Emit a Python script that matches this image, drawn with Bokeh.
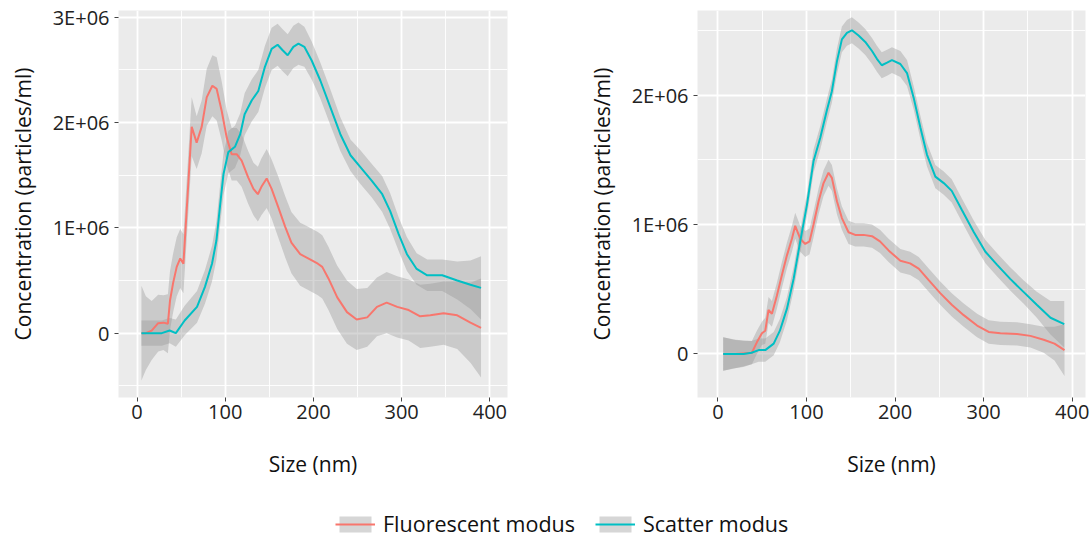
from bokeh.plotting import figure
from bokeh.layouts import column, row
from bokeh.models import FixedTicker, Range1d, Legend, LegendItem, ColumnDataSource
from bokeh.embed import file_html
from bokeh.resources import INLINE

FONT = "Open Sans"
RED = "#F8766D"
TEAL = "#00BFC4"

# ---------------- data (concentration in units of 1E+06 particles/ml) ----------------
# Left panel - fluorescent modus
lf_x = [5, 10, 16.6, 24, 30, 35, 37.4, 41, 45, 49, 52.6, 57.4, 62, 67.6, 73.3, 79, 85.4, 90.3, 96,
        101.6, 107.3, 113, 118.6, 126, 132, 137, 141, 147, 152.6, 160, 168, 175, 185, 194, 205, 210,
        217, 227, 238, 249, 261, 272, 283, 295, 308, 321, 332.5, 347.6, 363, 378, 390]
lf_y = [0, 0.0, 0.025, 0.095, 0.10, 0.09, 0.31, 0.48, 0.63, 0.71, 0.66, 1.32, 1.96, 1.81, 1.96, 2.24,
        2.35, 2.32, 2.11, 1.86, 1.70, 1.70, 1.64, 1.48, 1.37, 1.32, 1.39, 1.47, 1.37, 1.20, 1.01, 0.86,
        0.75, 0.71, 0.66, 0.63, 0.52, 0.34, 0.20, 0.13, 0.15, 0.25, 0.29, 0.25, 0.22, 0.16, 0.17, 0.19,
        0.17, 0.10, 0.05]
lf_se = [0.45, 0.35, 0.28, 0.27, 0.26, 0.28, 0.28, 0.28, 0.28, 0.28, 0.28, 0.28, 0.28, 0.25, 0.25,
         0.27, 0.29, 0.30, 0.28, 0.26, 0.25, 0.25, 0.25, 0.25, 0.25, 0.26, 0.27, 0.28, 0.28, 0.29, 0.29,
         0.29, 0.30, 0.30, 0.30, 0.30, 0.30, 0.30, 0.30, 0.29, 0.28, 0.28, 0.29, 0.29, 0.29, 0.30, 0.30,
         0.30, 0.32, 0.38, 0.47]

# Left panel - scatter modus
ls_x = [5, 15, 28, 37, 44, 54, 68, 77, 85, 90, 94, 98, 103.5, 111, 117, 122, 130, 137.5, 145, 152.6,
        159.4, 164.8, 170.8, 177.2, 183, 189.7, 198, 207.8, 219, 230.5, 242, 253, 266, 278, 287, 296.6,
        306, 317, 329, 346, 363, 378, 390]
ls_y = [0, 0, 0, 0.025, 0, 0.12, 0.25, 0.44, 0.66, 0.88, 1.20, 1.51, 1.72, 1.77, 1.89, 2.08, 2.21,
        2.30, 2.53, 2.70, 2.74, 2.69, 2.64, 2.72, 2.75, 2.72, 2.59, 2.40, 2.15, 1.89, 1.69, 1.58, 1.45,
        1.32, 1.16, 0.94, 0.75, 0.61, 0.55, 0.55, 0.50, 0.46, 0.43]
ls_se = [0.12, 0.12, 0.12, 0.12, 0.13, 0.14, 0.15, 0.16, 0.17, 0.18, 0.19, 0.20, 0.20, 0.20, 0.20,
         0.20, 0.20, 0.20, 0.20, 0.20, 0.20, 0.20, 0.20, 0.20, 0.20, 0.19, 0.18, 0.17, 0.17, 0.16, 0.15,
         0.16, 0.16, 0.17, 0.17, 0.16, 0.16, 0.15, 0.15, 0.15, 0.18, 0.23, 0.30]

# Right panel - fluorescent modus
rf_x = [6, 20, 38.4, 44, 49.7, 53.5, 57.2, 61, 66.6, 72.3, 77.9, 83.6, 87.3, 93, 98.6, 103.5, 108,
        113.7, 119.3, 124.9, 128.7, 134.4, 140, 147.5, 155, 164.5, 174, 183, 192.7, 206, 217, 226.7,
        238, 251, 264, 277.5, 292.6, 305.7, 319, 337.7, 352.8, 367.8, 380, 391.3]
rf_y = [0, 0, 0.01, 0.09, 0.16, 0.18, 0.34, 0.31, 0.45, 0.61, 0.76, 0.89, 0.99, 0.89, 0.85, 0.87,
        1.00, 1.18, 1.32, 1.40, 1.36, 1.18, 1.05, 0.94, 0.92, 0.92, 0.91, 0.87, 0.80, 0.72, 0.70, 0.66,
        0.57, 0.47, 0.38, 0.30, 0.22, 0.17, 0.16, 0.155, 0.14, 0.11, 0.08, 0.03]
rf_se = [0.13, 0.11, 0.09, 0.09, 0.09, 0.10, 0.10, 0.10, 0.10, 0.10, 0.10, 0.10, 0.10, 0.10, 0.10,
         0.10, 0.10, 0.10, 0.10, 0.10, 0.10, 0.10, 0.09, 0.09, 0.09, 0.09, 0.09, 0.09, 0.09, 0.09, 0.09,
         0.09, 0.09, 0.09, 0.09, 0.09, 0.09, 0.09, 0.09, 0.09, 0.09, 0.10, 0.13, 0.20]

# Right panel - scatter modus
rs_x = [6, 18, 29, 38, 46, 53.5, 63, 70, 78, 85.5, 93, 100.5, 108, 115.6, 123, 128.7, 134.4, 140,
        145.7, 151.3, 158.8, 166.4, 174, 179.5, 185, 191, 196.5, 206, 213.5, 221, 228.6, 236, 245.5,
        255, 264, 275.6, 289, 302, 315, 330, 345, 360, 375.5, 391]
rs_y = [0, 0, 0, 0.01, 0.03, 0.03, 0.08, 0.18, 0.35, 0.58, 0.87, 1.15, 1.49, 1.67, 1.88, 2.03, 2.26,
        2.43, 2.48, 2.50, 2.46, 2.41, 2.34, 2.28, 2.23, 2.25, 2.27, 2.24, 2.17, 1.98, 1.75, 1.54, 1.37,
        1.32, 1.26, 1.11, 0.94, 0.79, 0.69, 0.58, 0.48, 0.38, 0.28, 0.23]
rs_se = [0.13, 0.11, 0.10, 0.09, 0.09, 0.09, 0.09, 0.09, 0.09, 0.09, 0.09, 0.09, 0.09, 0.09, 0.09,
         0.09, 0.10, 0.10, 0.10, 0.10, 0.10, 0.10, 0.10, 0.10, 0.10, 0.10, 0.10, 0.10, 0.10, 0.09, 0.09,
         0.09, 0.09, 0.09, 0.09, 0.09, 0.09, 0.09, 0.09, 0.09, 0.09, 0.10, 0.13, 0.18]

x_ticks = [0, 100, 200, 300, 400]
x_minor = [50, 150, 250, 350]
left_y_ticks = [0, 1, 2, 3]
left_y_minor = [-0.5, 0.5, 1.5, 2.5]
right_y_ticks = [0, 1, 2]
right_y_minor = [0.5, 1.5, 2.5]
y_labels = {0: "0", 1: "1E+06", 2: "2E+06", 3: "3E+06"}
series_names = ["Fluorescent modus", "Scatter modus"]
x_title = "Size (nm)"
y_title = "Concentration (particles/ml)"


def band(x, y, se):
    return ColumnDataSource(dict(x=x, y=y,
                                 lo=[a - b for a, b in zip(y, se)],
                                 hi=[a + b for a, b in zip(y, se)]))


def panel(width, bl, br, xr, yr, yt, ym, series):
    p = figure(width=width, height=490, x_range=Range1d(*xr), y_range=Range1d(*yr),
               output_backend="svg", toolbar_location=None,
               min_border_left=bl, min_border_right=br, min_border_top=10, min_border_bottom=93)
    p.background_fill_color = "#EBEBEB"
    p.border_fill_color = "white"
    p.outline_line_color = None
    p.xaxis.ticker = FixedTicker(ticks=x_ticks, minor_ticks=x_minor)
    p.yaxis.ticker = FixedTicker(ticks=yt, minor_ticks=ym)
    p.yaxis.major_label_overrides = {float(k): v for k, v in y_labels.items() if k in yt}
    for g in (p.xgrid, p.ygrid):
        g.grid_line_color = "white"
        g.grid_line_width = 1.8
        g.minor_grid_line_color = "white"
        g.minor_grid_line_width = 0.9
    for ax in (p.xaxis, p.yaxis):
        ax.axis_line_color = None
        ax.major_tick_line_color = "#444444"
        ax.major_tick_out = 4
        ax.major_tick_in = 0
        ax.minor_tick_line_color = None
        ax.major_label_text_font = FONT
        ax.major_label_text_font_size = "20px"
        ax.major_label_text_color = "#222222"
        ax.axis_label_text_font = FONT
        ax.axis_label_text_font_size = "21px"
        ax.axis_label_text_font_style = "normal"
        ax.axis_label_text_color = "#111111"
    p.xaxis.axis_label = x_title
    p.yaxis.axis_label = y_title
    p.xaxis.major_label_standoff = 3
    p.xaxis.axis_label_standoff = 28
    p.yaxis.major_label_standoff = 5
    p.yaxis.axis_label_standoff = 13
    srcs = [band(*s) for s in series]
    for s in srcs:
        p.varea(x="x", y1="lo", y2="hi", source=s, fill_color="#999999", fill_alpha=0.4)
    for s, c in zip(srcs, [RED, TEAL]):
        p.line(x="x", y="y", source=s, line_color=c, line_width=2)
    return p


p1 = panel(560, 118, 53, (-21, 420), (-0.611, 3.065), left_y_ticks, left_y_minor,
           [(lf_x, lf_y, lf_se), (ls_x, ls_y, ls_se)])
p2 = panel(530, 137, 5, (-23, 415), (-0.336, 2.653), right_y_ticks, right_y_minor,
           [(rf_x, rf_y, rf_se), (rs_x, rs_y, rs_se)])

leg = figure(width=1090, height=48, x_range=Range1d(0, 1), y_range=Range1d(0, 1),
             output_backend="svg", toolbar_location=None, x_axis_type=None, y_axis_type=None,
             min_border=0)
leg.outline_line_color = None
leg.xgrid.visible = False
leg.ygrid.visible = False
items = []
for name, c in zip(series_names, [RED, TEAL]):
    va = leg.varea(x=[5, 6], y1=[5, 5], y2=[6, 6], fill_color="#999999", fill_alpha=0.4)
    ln = leg.line(x=[5, 6], y=[5.5, 5.5], line_color=c, line_width=2)
    items.append(LegendItem(label=name, renderers=[va, ln]))
legend = Legend(items=items, location=(335, 0), orientation="horizontal",
                glyph_width=40, glyph_height=20, label_standoff=8, spacing=20,
                padding=0, margin=0, border_line_color=None, background_fill_alpha=0,
                label_text_font=FONT, label_text_font_size="21.5px", label_text_color="#111111",
                label_height=20)
leg.add_layout(legend)

layout = column(row(p1, p2), leg)
open("out.html", "w").write(file_html(layout, INLINE))
